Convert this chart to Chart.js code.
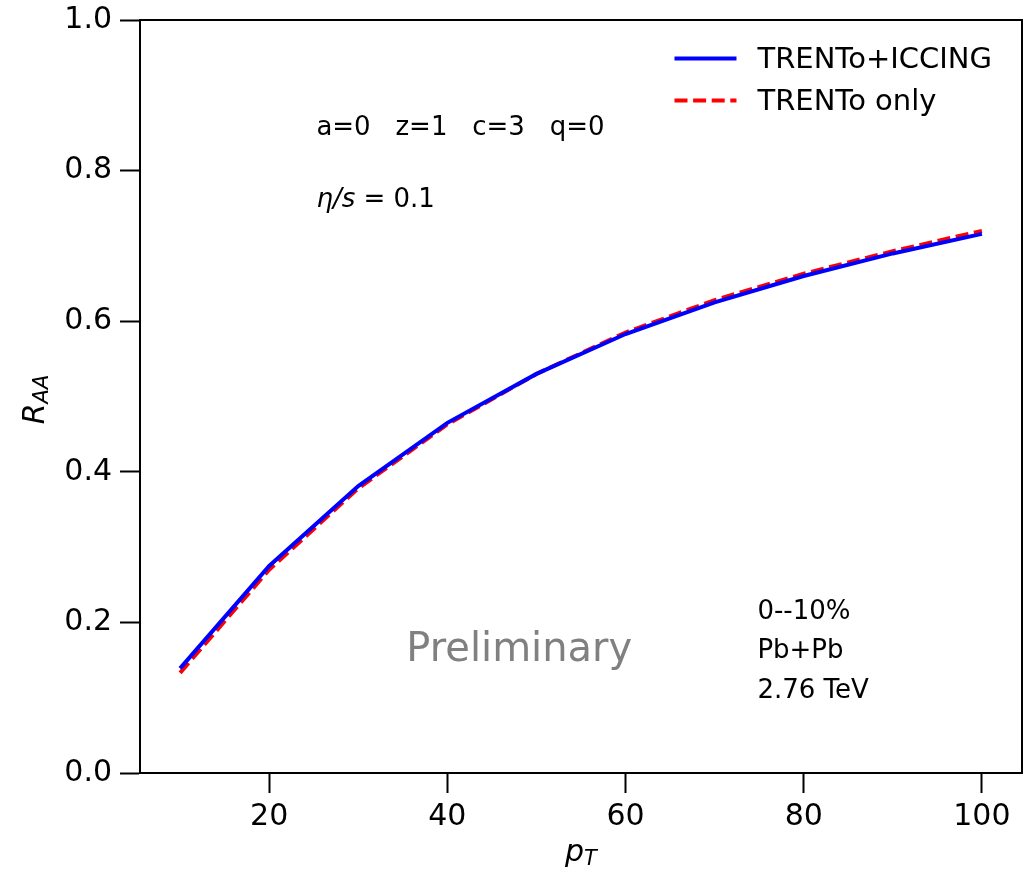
<!DOCTYPE html>
<html>
<head>
<meta charset="utf-8">
<script src="https://cdn.jsdelivr.net/npm/chart.js@4/dist/chart.umd.min.js"></script>
<style>
  html, body { margin: 0; padding: 0; background: #fff; }
  #wrap { width: 1024px; height: 874px; }
</style>
</head>
<body>
<div id="wrap"><canvas id="raa" width="1024" height="874"></canvas></div>
<script>
// pT values and R_AA
var ptValues = [10, 20, 30, 40, 50, 60, 70, 80, 90, 100];
var raaIccing = [0.139, 0.275, 0.381, 0.465, 0.530, 0.583, 0.625, 0.660, 0.690, 0.716];
var raaTrento = [0.133, 0.270, 0.378, 0.463, 0.530, 0.585, 0.628, 0.663, 0.693, 0.720];
var xTicks = [20, 40, 60, 80, 100];
var yTicks = [0, 0.2, 0.4, 0.6, 0.8, 1.0];

var FONT = "'DejaVu Sans', sans-serif";

function toPoints(ys) {
	var pts = [];
	for (let i = 0; i < ptValues.length; i++) {
		pts.push({x: ptValues[i], y: ys[i]});
	}
	return pts;
}

// frame, legend and text labels, the way matplotlib draws them
var decorations = {
	id: 'decorations',
	afterDraw: function(chart) {
		var ctx = chart.ctx;
		var a = chart.chartArea;
		var w = a.right - a.left, h = a.bottom - a.top;
		ctx.save();

		// box around the axes
		ctx.strokeStyle = '#000';
		ctx.lineWidth = 2;
		ctx.strokeRect(a.left, a.top, w, h);

		// legend
		var lx = a.left + w * 0.606, ly1 = a.top + h * 0.051, ly2 = a.top + h * 0.107;
		ctx.lineWidth = 4;
		ctx.strokeStyle = '#0000ff';
		ctx.beginPath(); ctx.moveTo(lx, ly1); ctx.lineTo(lx + 62, ly1); ctx.stroke();
		ctx.strokeStyle = '#ff0000';
		ctx.setLineDash([13, 5.6]);
		ctx.beginPath(); ctx.moveTo(lx, ly2); ctx.lineTo(lx + 62, ly2); ctx.stroke();
		ctx.setLineDash([]);
		ctx.fillStyle = '#000';
		ctx.textBaseline = 'middle';
		ctx.textAlign = 'left';
		ctx.font = '29px ' + FONT;
		ctx.fillText('TRENTo+ICCING', lx + 83, ly1 + 2);
		ctx.fillText('TRENTo only', lx + 83, ly2 + 2);

		// parameters
		ctx.font = '26px ' + FONT;
		var px = a.left + w * 0.2;
		ctx.fillText('a=0   z=1   c=3   q=0', px, a.top + h * 0.144);
		ctx.font = 'italic 26px ' + FONT;
		ctx.fillText('\u03b7/s', px, a.top + h * 0.24);
		var ew = ctx.measureText('\u03b7/s').width;
		ctx.font = '26px ' + FONT;
		ctx.fillText(' = 0.1', px + ew, a.top + h * 0.24);

		// system
		var sx = a.left + w * 0.7;
		ctx.fillText('0--10%', sx, a.top + h * 0.787);
		ctx.fillText('Pb+Pb', sx, a.top + h * 0.838);
		ctx.fillText('2.76 TeV', sx, a.top + h * 0.892);

		// watermark
		ctx.fillStyle = '#808080';
		ctx.font = '40px ' + FONT;
		ctx.textAlign = 'center';
		ctx.fillText('Preliminary', a.left + w * 0.43, a.top + h * 0.838);

		// axis titles with subscripts
		ctx.fillStyle = '#000';
		ctx.textAlign = 'left';
		ctx.font = 'italic 30px ' + FONT;
		var pw = ctx.measureText('p').width;
		ctx.font = 'italic 21px ' + FONT;
		var tw = ctx.measureText('T').width;
		var tx = (a.left + a.right) / 2 - (pw + tw) / 2;
		ctx.font = 'italic 30px ' + FONT;
		ctx.fillText('p', tx, 853);
		ctx.font = 'italic 21px ' + FONT;
		ctx.fillText('T', tx + pw, 860);

		ctx.translate(36, (a.top + a.bottom) / 2 + 3);
		ctx.rotate(-Math.PI / 2);
		ctx.font = 'italic 30px ' + FONT;
		var rw = ctx.measureText('R').width;
		ctx.font = 'italic 21px ' + FONT;
		var aw = ctx.measureText('AA').width;
		var rx = -(rw + aw) / 2;
		ctx.font = 'italic 30px ' + FONT;
		ctx.fillText('R', rx, 0);
		ctx.font = 'italic 21px ' + FONT;
		ctx.fillText('AA', rx + rw, 7);
		ctx.restore();
	}
};

new Chart(document.getElementById('raa'), {
	type: 'line',
	data: {
		datasets: [{
			label: 'TRENTo+ICCING',
			data: toPoints(raaIccing),
			borderColor: '#0000ff',
			borderWidth: 4,
			pointRadius: 0,
			fill: false,
			tension: 0
		}, {
			label: 'TRENTo only',
			data: toPoints(raaTrento),
			borderColor: '#ff0000',
			borderWidth: 4,
			borderDash: [13, 5.6],
			pointRadius: 0,
			fill: false,
			tension: 0
		}]
	},
	options: {
		responsive: false,
		animation: false,
		layout: {padding: {top: 20, right: 2, left: 0, bottom: 0}},
		plugins: {
			legend: {display: false},
			tooltip: {enabled: false},
			title: {display: false}
		},
		scales: {
			x: {
				type: 'linear',
				min: 5.5,
				max: 104.5,
				afterBuildTicks: function(scale) {
					scale.ticks = xTicks.map(function(v) { return {value: v}; });
				},
				afterFit: function(scale) {
					scale.height = 101;
					scale.paddingLeft = 0;
					scale.paddingRight = 0;
				},
				grid: {drawOnChartArea: false, drawTicks: true, tickLength: 20, tickWidth: 2, tickColor: '#000'},
				border: {display: true, color: '#000', width: 2},
				ticks: {color: '#000', font: {family: FONT, size: 30}, padding: 6, maxRotation: 0}
			},
			y: {
				type: 'linear',
				min: 0,
				max: 1,
				afterBuildTicks: function(scale) {
					scale.ticks = yTicks.map(function(v) { return {value: v}; });
				},
				afterFit: function(scale) {
					scale.width = 140;
					scale.paddingTop = 0;
					scale.paddingBottom = 0;
				},
				grid: {drawOnChartArea: false, drawTicks: true, tickLength: 20, tickWidth: 2, tickColor: '#000'},
				border: {display: true, color: '#000', width: 2},
				ticks: {
					color: '#000',
					font: {family: FONT, size: 30},
					padding: 8,
					callback: function(v) { return v.toFixed(1); }
				}
			}
		}
	},
	plugins: [decorations]
});
</script>
</body>
</html>
